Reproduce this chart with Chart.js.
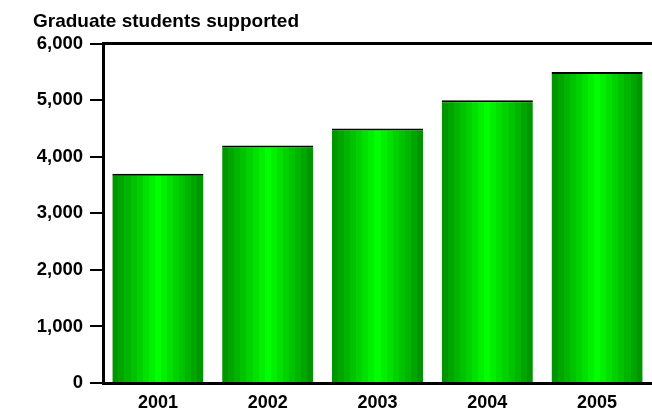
<!DOCTYPE html>
<html>
<head>
<meta charset="utf-8">
<script src="https://cdn.jsdelivr.net/npm/chart.js@4/dist/chart.umd.min.js"></script>
<style>
html,body{margin:0;padding:0;background:#fff;}
#wrap{width:652px;height:410px;position:relative;}
</style>
</head>
<body>
<div id="wrap"><canvas id="c" width="652" height="410"></canvas></div>
<script>
const years = ['2001', '2002', '2003', '2004', '2005'];
const students = [3700, 4200, 4500, 5000, 5500];
const yTicks = [0, 1000, 2000, 3000, 4000, 5000, 6000];
const titleText = 'Graduate students supported';

const BAR_PCT = 0.83;

function bandGradient(ctx) {
  const chart = ctx.chart;
  const xs = chart.scales && chart.scales.x;
  if (!chart.chartArea || !xs) return '#00cc00';
  const c = xs.getPixelForValue(ctx.dataIndex);
  const w = (xs.right - xs.left) / years.length * BAR_PCT;
  const g = chart.ctx.createLinearGradient(c - w / 2, 0, c + w / 2, 0);
  const n = 15;
  for (let i = 0; i < n; i++) {
    const d = Math.abs(i - (n - 1) / 2) / ((n - 1) / 2);
    const gv = Math.round(255 - d * 105);
    const col = 'rgb(0,' + gv + ',0)';
    g.addColorStop(i / n, col);
    g.addColorStop((i + 1) / n - 0.0001, col);
  }
  return g;
}

new Chart(document.getElementById('c'), {
  type: 'bar',
  data: {
    labels: years,
    datasets: [{
      data: students,
      backgroundColor: bandGradient,
      borderColor: '#000',
      borderWidth: {top: 2, left: 0, right: 0, bottom: 0},
      borderSkipped: false,
      barPercentage: BAR_PCT,
      categoryPercentage: 1
    }]
  },
  options: {
    responsive: false,
    animation: false,
    devicePixelRatio: 1,
    layout: {padding: {left: 33, right: 0, top: 10, bottom: 0}},
    plugins: {
      legend: {display: false},
      tooltip: {enabled: false},
      title: {
        display: true,
        text: titleText,
        align: 'start',
        color: '#000',
        font: {family: 'Liberation Sans', size: 19, weight: 'bold'},
        padding: {top: 0, bottom: 11}
      }
    },
    scales: {
      x: {
        grid: {display: false, drawTicks: false},
        border: {display: true, color: '#000', width: 3},
        afterFit: (s) => { s.height = 27; },
        ticks: {
          color: '#000',
          font: {family: 'Liberation Sans', size: 18, weight: 'bold'},
          padding: 9
        }
      },
      x2: {
        position: 'top',
        labels: years,
        grid: {display: false, drawTicks: false},
        border: {display: true, color: '#000', width: 3},
        afterFit: (s) => { s.height = 0; },
        ticks: {display: false}
      },
      y: {
        min: 0,
        max: 6000,
        afterBuildTicks: (axis) => { axis.ticks = yTicks.map(v => ({value: v})); },
        afterFit: (s) => { s.width = 70; },
        grid: {drawOnChartArea: false, drawTicks: true, tickLength: 13, color: '#000', lineWidth: 2},
        border: {display: true, color: '#000', width: 3},
        ticks: {
          color: '#000',
          font: {family: 'Liberation Sans', size: 18.5, weight: 'bold'},
          padding: 7,
          callback: (v) => Number(v).toLocaleString('en-US')
        }
      }
    }
  }
});
</script>
</body>
</html>
